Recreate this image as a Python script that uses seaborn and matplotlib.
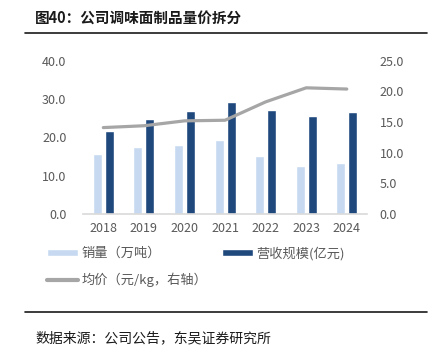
import pandas as pd
import matplotlib
matplotlib.use("Agg")
import matplotlib.pyplot as plt
import seaborn as sns
from matplotlib.lines import Line2D
from matplotlib.patches import Patch

# values
years = ["2018", "2019", "2020", "2021", "2022", "2023", "2024"]
volume = [15.7, 17.4, 18.0, 19.4, 15.1, 12.5, 13.2]       # 销量（万吨）, left axis
revenue = [21.7, 24.8, 27.0, 29.2, 27.2, 25.5, 26.7]      # 营收规模(亿元), left axis
price = [14.1, 14.4, 15.2, 15.3, 18.3, 20.6, 20.4]        # 均价（元/kg）, right axis
left_ticks = [0, 10, 20, 30, 40]
right_ticks = [0, 5, 10, 15, 20, 25]

sns.set_style("white")
plt.rcParams["font.family"] = ["Noto Sans CJK SC", "DejaVu Sans"]

c_light = "#C6D9F1"
c_dark = "#1F497D"
c_line = "#A6A6A6"
c_text = "#595959"

bars = pd.DataFrame({
    "year": years * 2,
    "value": volume + revenue,
    "series": ["销量（万吨）"] * len(years) + ["营收规模(亿元)"] * len(years),
})

fig = plt.figure(figsize=(4.37, 3.5), dpi=100)
ax = fig.add_axes([0.19, 0.389, 0.65, 0.437])

sns.barplot(data=bars, x="year", y="value", hue="series",
            palette=[c_light, c_dark], width=0.59, gap=0.25,
            legend=False, ax=ax, saturation=1)
ax.set_ylim(0, 40)
ax.set_yticks(left_ticks, labels=[f"{t:.1f}" for t in left_ticks])
ax.set_xlabel("")
ax.set_ylabel("")

ax2 = ax.twinx()
sns.lineplot(x=list(range(len(years))), y=price, color=c_line,
             linewidth=2.3, ax=ax2)
ax2.set_ylim(0, 25)
ax2.set_yticks(right_ticks, labels=[f"{t:.1f}" for t in right_ticks])
ax.set_xlim(-0.5, len(years) - 0.5)

for a in (ax, ax2):
    for s in a.spines.values():
        s.set_visible(False)
    a.tick_params(length=0, labelsize=9, colors=c_text, pad=6)
ax.tick_params(axis="y", pad=12)
ax2.tick_params(axis="y", pad=9)
ax.spines["bottom"].set_visible(True)
ax.spines["bottom"].set_color("#D9D9D9")
ax.spines["bottom"].set_linewidth(1.2)

handles = [
    Patch(facecolor=c_light, label="销量（万吨）"),
    Line2D([], [], color=c_line, linewidth=3, label="均价（元/kg，右轴）"),
    Patch(facecolor=c_dark, label="营收规模(亿元)"),
]
fig.legend(handles=handles, ncol=2, loc="upper left",
           bbox_to_anchor=(0.08, 0.33), frameon=False,
           fontsize=9.5, labelcolor=c_text, handlelength=2.35,
           handleheight=0.45, handletextpad=0.25, columnspacing=1.1,
           labelspacing=0.95)

fig.text(0.08, 0.948, "图40：公司调味面制品量价拆分", fontsize=10.5,
         fontweight="bold", color="#1a1a1a", va="center")
fig.add_artist(Line2D([0.057, 0.977], [0.905, 0.905], color="#1a1a1a", linewidth=1.2))
fig.add_artist(Line2D([0.057, 0.977], [0.108, 0.108], color="#1a1a1a", linewidth=1.2))
fig.text(0.08, 0.034, "数据来源：公司公告，东吴证券研究所", fontsize=10,
         color="#1a1a1a", va="center")

fig.savefig("out.png", dpi=100)
